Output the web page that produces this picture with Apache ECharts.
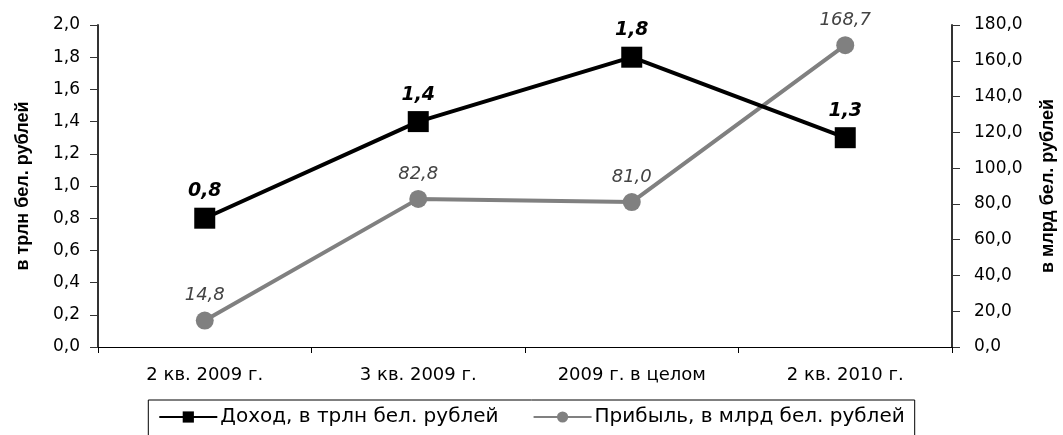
<!DOCTYPE html>
<html>
<head>
<meta charset="utf-8">
<script src="https://cdn.jsdelivr.net/npm/echarts@6/dist/echarts.min.js"></script>
<style>
  html, body { margin: 0; padding: 0; background: #fff; }
  #chart { width: 1063px; height: 435px; }
</style>
</head>
<body>
<div id="chart"></div>
<script>
const categories = ['2 кв. 2009 г.', '3 кв. 2009 г.', '2009 г. в целом', '2 кв. 2010 г.']
const income = [0.8, 1.4, 1.8, 1.3]      // трлн бел. рублей
const profit = [14.8, 82.8, 81.0, 168.7] // млрд бел. рублей

const font = 'DejaVu Sans, Verdana, sans-serif'
const comma = (v, d) => v.toFixed(d).replace('.', ',')

const chart = echarts.init(document.getElementById('chart'))

chart.setOption({
  animation: false,
  textStyle: { fontFamily: font },
  grid: { left: 98, right: 111, top: 25, bottom: 88, outerBoundsMode: 'none' },
  legend: {
    bottom: -8,
    left: 'center',
    padding: [7, 10, 16, 10],
    borderColor: '#000',
    borderWidth: 1,
    itemWidth: 58,
    itemHeight: 14,
    itemGap: 34,
    textStyle: { fontSize: 20, color: '#000', fontFamily: font, padding: [0, 0, 0, -2] },
    data: ['Доход, в трлн бел. рублей', 'Прибыль, в млрд бел. рублей']
  },
  xAxis: {
    type: 'category',
    data: categories,
    boundaryGap: true,
    axisLine: { lineStyle: { color: '#000', width: 1 } },
    axisTick: { show: true, length: 6, lineStyle: { color: '#000' } },
    axisLabel: { fontSize: 18, color: '#000', margin: 19, fontFamily: font }
  },
  yAxis: [
    {
      type: 'value',
      min: 0, max: 2, interval: 0.2,
      name: 'в трлн бел. рублей',
      nameLocation: 'middle',
      nameGap: 66,
      nameRotate: 90,
      nameTextStyle: { fontSize: 18, fontWeight: 'bold', color: '#000', fontFamily: 'Liberation Sans, Arial, sans-serif' },
      axisLine: { show: true, lineStyle: { color: '#333', width: 2 } },
      axisTick: { show: true, length: 8, lineStyle: { color: '#333' } },
      splitLine: { show: false },
      axisLabel: { fontSize: 17, color: '#000', margin: 18, fontFamily: font, formatter: v => comma(v, 1) }
    },
    {
      type: 'value',
      min: 0, max: 180, interval: 20,
      name: 'в млрд бел. рублей',
      nameLocation: 'middle',
      nameGap: 87,
      nameRotate: 90,
      nameTextStyle: { fontSize: 18, fontWeight: 'bold', color: '#000', fontFamily: 'Liberation Sans, Arial, sans-serif' },
      axisLine: { show: true, lineStyle: { color: '#333', width: 2 } },
      axisTick: { show: true, length: 8, lineStyle: { color: '#333' } },
      splitLine: { show: false },
      axisLabel: { fontSize: 17, color: '#000', margin: 22, fontFamily: font, formatter: v => comma(v, 1) }
    }
  ],
  series: [
    {
      name: 'Доход, в трлн бел. рублей',
      type: 'line',
      yAxisIndex: 0,
      data: income,
      symbol: 'rect',
      symbolSize: 21,
      itemStyle: { color: '#000' },
      lineStyle: { color: '#000', width: 4 },
      label: {
        show: true,
        position: 'top',
        distance: 7,
        fontSize: 19,
        fontWeight: 'bold',
        fontStyle: 'italic',
        color: '#000',
        fontFamily: font,
        formatter: p => comma(p.value, 1)
      },
      z: 3
    },
    {
      name: 'Прибыль, в млрд бел. рублей',
      type: 'line',
      yAxisIndex: 1,
      data: profit,
      symbol: 'circle',
      symbolSize: 18,
      itemStyle: { color: '#808080' },
      lineStyle: { color: '#808080', width: 4 },
      label: {
        show: true,
        position: 'top',
        distance: 7,
        fontSize: 18,
        fontStyle: 'italic',
        color: '#444',
        fontFamily: font,
        formatter: p => comma(p.value, 1)
      },
      z: 2
    }
  ]
})
</script>
</body>
</html>
